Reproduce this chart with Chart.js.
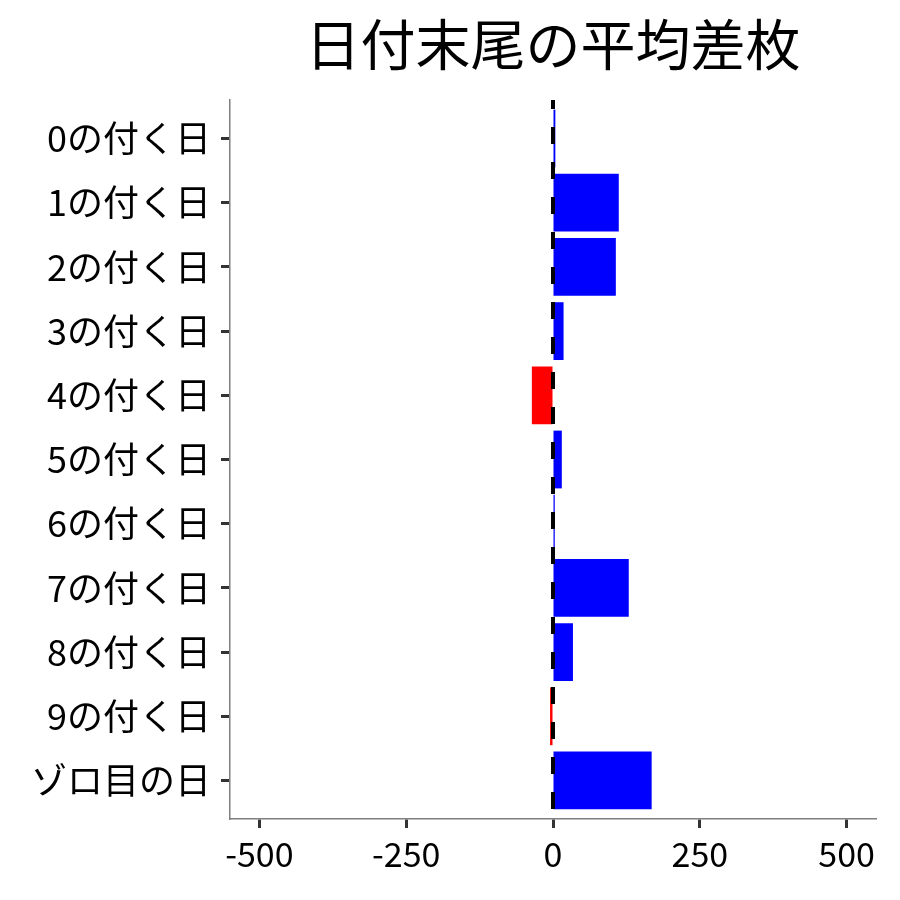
<!DOCTYPE html>
<html>
<head>
<meta charset="utf-8">
<script src="https://cdn.jsdelivr.net/npm/chart.js@4"></script>
<style>
  html, body { margin: 0; padding: 0; background: #fff; }
  #wrap { width: 900px; height: 900px; }
</style>
</head>
<body>
<div id="wrap"><canvas id="chart" width="900" height="900"></canvas></div>
<script>
const categories = [
  "0の付く日", "1の付く日", "2の付く日", "3の付く日", "4の付く日",
  "5の付く日", "6の付く日", "7の付く日", "8の付く日", "9の付く日", "ゾロ目の日",
];
const avgDiff = [4, 112, 107, 18, -36, 15, 3, 129, 34, -5, 168];
const xTicks = [-500, -250, 0, 250, 500];

const font = "'Noto Sans CJK JP', 'Noto Sans', sans-serif";

// dashed line at x = 0, drawn on top of the bars
const zeroLine = {
  id: "zeroLine",
  afterDatasetsDraw(chart) {
    const ctx = chart.ctx;
    const area = chart.chartArea;
    const x = chart.scales.x.getPixelForValue(0);
    ctx.save();
    ctx.strokeStyle = "#000";
    ctx.lineWidth = 4;
    ctx.setLineDash([17, 18]);
    ctx.lineDashOffset = 8;
    ctx.beginPath();
    ctx.moveTo(x, area.top);
    ctx.lineTo(x, area.bottom);
    ctx.stroke();
    ctx.restore();
  },
};

const chart = document.querySelector("#chart").getContext("2d");

new Chart(chart, {
  type: "bar",
  data: {
    datasets: [
      {
        data: avgDiff.map((v, i) => ({ x: v, y: i })),
        backgroundColor: avgDiff.map((v) => (v < 0 ? "#ff0000" : "#0000ff")),
        borderWidth: 0,
        barPercentage: 0.9,
        categoryPercentage: 1,
      },
    ],
  },
  options: {
    indexAxis: "y",
    responsive: false,
    animation: false,
    layout: { padding: { left: 0, right: 24, top: 0, bottom: 0 } },
    plugins: {
      legend: { display: false },
      tooltip: { enabled: false },
      title: {
        display: true,
        text: "日付末尾の平均差枚",
        fullSize: false,
        color: "#000",
        font: { family: font, size: 55, weight: "normal", lineHeight: 1.2 },
        padding: { top: 11, bottom: 23 },
      },
    },
    scales: {
      x: {
        type: "linear",
        min: -550,
        max: 550,
        afterBuildTicks(scale) {
          scale.ticks = xTicks.map((v) => ({ value: v }));
        },
        afterFit(scale) {
          scale.height = 81;
        },
        grid: {
          drawOnChartArea: false,
          drawTicks: true,
          tickLength: 9,
          tickColor: "#333",
          tickWidth: 3,
        },
        border: { display: true, color: "#7f7f7f", width: 1.5 },
        ticks: {
          color: "#000",
          padding: 6,
          font: { family: font, size: 34 },
        },
      },
      y: {
        type: "linear",
        reverse: true,
        offset: false,
        min: -0.6,
        max: 10.6,
        afterBuildTicks(scale) {
          scale.ticks = categories.map((c, i) => ({ value: i }));
        },
        afterFit(scale) {
          scale.width = 230;
        },
        grid: {
          offset: false,
          drawOnChartArea: false,
          drawTicks: true,
          tickLength: 9,
          tickColor: "#333",
          tickWidth: 3,
        },
        border: { display: true, color: "#7f7f7f", width: 1.5 },
        ticks: {
          color: "#000",
          padding: 10,
          autoSkip: false,
          font: { family: font, size: 36 },
          callback: (v) => categories[v],
        },
      },
    },
  },
  plugins: [zeroLine],
});
</script>
</body>
</html>
